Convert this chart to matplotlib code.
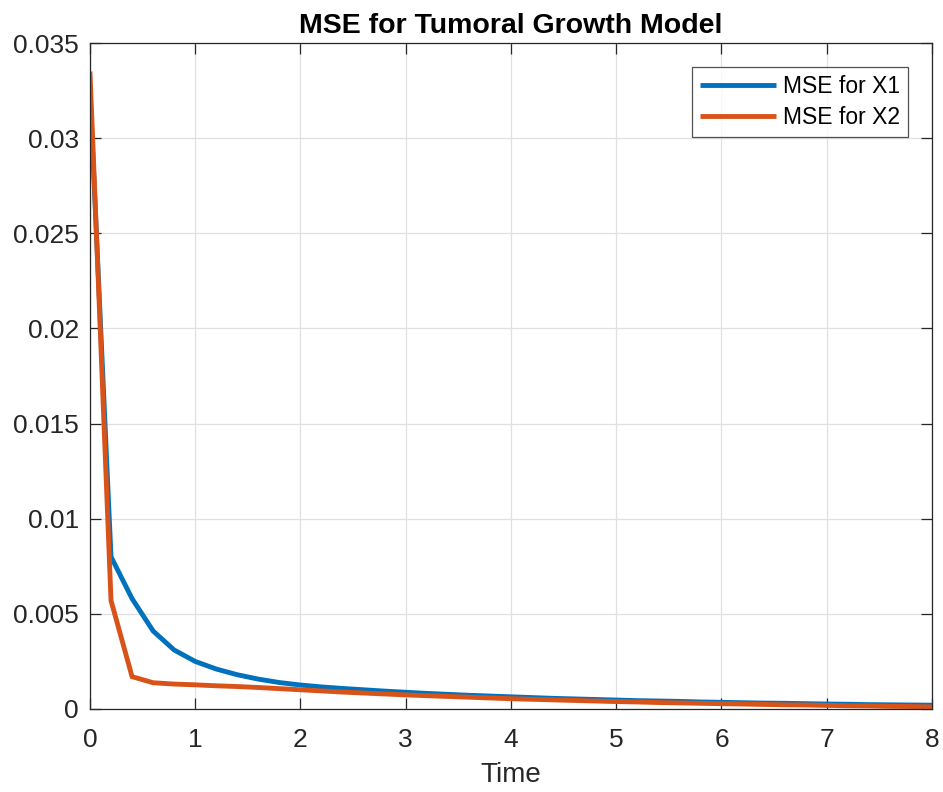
import numpy as np
import matplotlib
matplotlib.use("Agg")
import matplotlib.pyplot as plt

plt.rcParams['font.family'] = ['Liberation Sans', 'DejaVu Sans']

# Time grid (step 0.2 from 0 to 8)
time = np.linspace(0, 8, 41)

mse_x1 = [0.0325, 0.0080, 0.0058, 0.0041, 0.0031, 0.0025, 0.0021, 0.0018,
          0.00157, 0.00139, 0.00126, 0.00116, 0.00108, 0.00101, 0.00094,
          0.00088, 0.00082, 0.00077, 0.00072, 0.00068, 0.00064, 0.00060,
          0.00056, 0.00053, 0.00050, 0.00047, 0.00044, 0.00042, 0.00040,
          0.00037, 0.00035, 0.00033, 0.00031, 0.00030, 0.00028, 0.00026,
          0.00025, 0.00023, 0.00022, 0.00021, 0.00020]

mse_x2 = [0.0335, 0.0057, 0.0017, 0.00138, 0.00131, 0.00127, 0.00122,
          0.00118, 0.00113, 0.00107, 0.00101, 0.00095, 0.00089, 0.00084,
          0.00079, 0.00074, 0.00070, 0.00066, 0.00062, 0.00058, 0.00054,
          0.00051, 0.00048, 0.00045, 0.00042, 0.00039, 0.00037, 0.00034,
          0.00032, 0.00030, 0.00028, 0.00026, 0.00024, 0.00022, 0.00021,
          0.00019, 0.00017, 0.00016, 0.00014, 0.00013, 0.00011]

series_labels = ['MSE for X1', 'MSE for X2']
series_colors = ['#0072BD', '#D95319']

fig = plt.figure(figsize=(9.43, 7.92), dpi=100)
ax = fig.add_axes([0.0954, 0.1048, 0.8929, 0.8409])

ax.plot(time, mse_x1, color=series_colors[0], lw=3.5, label=series_labels[0],
        solid_capstyle='butt', solid_joinstyle='miter')
ax.plot(time, mse_x2, color=series_colors[1], lw=3.5, label=series_labels[1],
        solid_capstyle='butt', solid_joinstyle='miter')

ax.set_xlim(0, 8)
ax.set_ylim(0, 0.035)
ax.set_xticks(np.arange(0, 9, 1))
ax.set_yticks(np.arange(0, 0.0351, 0.005))
ax.set_yticklabels(['0', '0.005', '0.01', '0.015', '0.02', '0.025', '0.03', '0.035'])

ax.grid(True, color='#e0e0e0', lw=0.9)
ax.set_axisbelow(True)
ax.tick_params(direction='in', length=8, width=0.9, colors='#262626',
               labelsize=19, top=True, right=True, pad=8)
ax.tick_params(axis='x', pad=14)
for lab in ax.get_xticklabels() + ax.get_yticklabels():
    lab.set_color('#262626')
for sp in ax.spines.values():
    sp.set_color('#262626')
    sp.set_linewidth(0.9)

ax.set_xlabel('Time', fontsize=20, color='#262626', labelpad=7)
ax.set_title('MSE for Tumoral Growth Model', fontsize=20.5, fontweight='bold', pad=7)

leg = ax.legend(loc='upper right', fontsize=16.5, frameon=True, fancybox=False,
                edgecolor='#262626', handlelength=3.3, borderpad=0.35,
                labelspacing=0.35, handletextpad=0.3, borderaxespad=1.05)
leg.get_frame().set_linewidth(0.9)

fig.savefig('out.png', dpi=100)
